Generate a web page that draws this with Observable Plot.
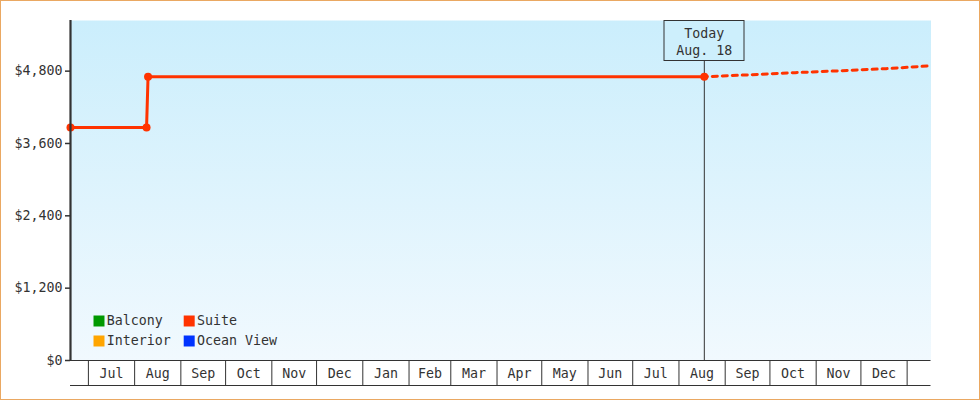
<!DOCTYPE html>
<html>
<head>
<meta charset="utf-8">
<script src="https://cdn.jsdelivr.net/npm/d3@7"></script>
<script src="https://cdn.jsdelivr.net/npm/@observablehq/plot@0.6"></script>
<style>
  html, body { margin: 0; padding: 0; background: #fff; }
  #chart svg { display: block; outline: 1px solid #eaa862; outline-offset: -1px; }
</style>
</head>
<body>
<div id="chart"></div>
<script>
// ---- data ----
const suiteDates = ["2022-06-19", "2022-08-09", "2022-08-10", "2023-08-18"];
const suitePrices = [3863, 3863, 4707, 4707];
const forecastDates = ["2023-08-18", "2023-09-18", "2023-10-18", "2023-11-18", "2023-12-18", "2024-01-17"];
const forecastPrices = [4707, 4740, 4775, 4807, 4841, 4889];
const todayDate = "2023-08-18";
const xDomain = ["2022-06-19", "2024-01-17"];
const yMax = 5640;
const yTicks = [0, 1200, 2400, 3600, 4800];
const legendNames = ["Balcony", "Interior", "Suite", "Ocean View"];
const legendColors = ["#009900", "#ffa500", "#ff3300", "#0033ff"];
const suiteColor = "#ff3300";

// ---- build tables ----
const suite = suiteDates.map((d, i) => ({date: new Date(d), price: suitePrices[i]}));
const forecast = forecastDates.map((d, i) => ({date: new Date(d), price: forecastPrices[i]}));
const today = new Date(todayDate);
const x0 = new Date(xDomain[0]), x1 = new Date(xDomain[1]);
const monthStarts = d3.utcMonth.range(d3.utcMonth.ceil(x0), x1);
const monthMids = monthStarts.slice(0, -1).map((m, i) => new Date((+m + +monthStarts[i + 1]) / 2));
const todayText = ["Today", d3.utcFormat("%b. %-d")(today)].join("\n");

// legend marks (2 columns x 2 rows, column-major)
const legendMarks = [];
legendNames.forEach((name, i) => {
  const col = Math.floor(i / 2), row = i % 2;
  const sx = 28.5 + col * 90.2, sy = -39.5 + row * 20;
  legendMarks.push(Plot.dot([name], {frameAnchor: "bottom-left", symbol: "square", r: 6.2, fill: legendColors[i], dx: sx, dy: sy}));
  legendMarks.push(Plot.text([name], {frameAnchor: "bottom-left", text: d => d, textAnchor: "start", fill: "#333", dx: sx + 7.8, dy: sy + 4}));
});

const ink = "#333";

const svg = Plot.plot({
  width: 980,
  height: 400,
  marginLeft: 70,
  marginRight: 49.5,
  marginTop: 20,
  marginBottom: 40,
  style: {fontFamily: "'DejaVu Sans Mono', monospace", fontSize: "13.3px", color: ink, background: "white"},
  x: {type: "utc", domain: [x0, x1], label: null},
  y: {domain: [0, yMax], label: null},
  marks: [
    Plot.frame({fill: "url(#bgGrad)", stroke: null}),
    Plot.ruleY([0], {stroke: ink, strokeWidth: 1}),
    Plot.ruleY([0], {stroke: ink, strokeWidth: 1, dy: 25}),
    Plot.axisX({ticks: monthStarts, tickSize: 25, tickFormat: () => "", stroke: ink}),
    Plot.axisX({ticks: monthMids, tickSize: 0, tickPadding: 8, tickFormat: d3.utcFormat("%b"), fill: ink}),
    Plot.ruleX([today], {stroke: ink, strokeWidth: 1}),
    Plot.line(forecast, {x: "date", y: "price", stroke: suiteColor, strokeWidth: 3, strokeDasharray: "5,5", strokeDashoffset: -8}),
    Plot.line(suite, {x: "date", y: "price", stroke: suiteColor, strokeWidth: 3}),
    Plot.dot(suite, {x: "date", y: "price", r: 4, fill: suiteColor}),
    Plot.axisY({ticks: yTicks, tickFormat: d3.format("$,"), tickSize: 5, tickPadding: 3, strokeWidth: 1.5, stroke: ink, fill: ink}),
    Plot.ruleX([x0], {stroke: ink, strokeWidth: 2.2}),
    ...legendMarks,
    Plot.text([today], {x: d => d, frameAnchor: "top", lineAnchor: "top", dy: 5, text: () => todayText, lineHeight: 1.3, fill: ink})
  ]
});

document.getElementById("chart").append(svg);

// gradient for the plot background
const defs = d3.select(svg).insert("defs", ":first-child");
const grad = defs.append("linearGradient").attr("id", "bgGrad").attr("x1", 0).attr("y1", 0).attr("x2", 0).attr("y2", 1);
grad.append("stop").attr("offset", "0%").attr("stop-color", "#cbeefc");
grad.append("stop").attr("offset", "100%").attr("stop-color", "#f1f9fe");

// box behind the "Today" label
d3.select(svg).selectAll("text").filter(function () { return this.textContent.startsWith("Today"); }).each(function () {
  const b = this.getBBox();
  const m = this.getCTM();
  const p = this.parentNode.getCTM();
  const ox = m.e - p.e;
  const cx = ox + b.x + b.width / 2;
  const w = 80;
  d3.select(this.parentNode).insert("rect", () => this)
    .attr("x", Math.round(cx - w / 2) - 0.5)
    .attr("y", 20.5 - p.f)
    .attr("width", w)
    .attr("height", 40)
    .attr("fill", "#cdeffc")
    .attr("stroke", ink)
    .attr("stroke-width", 1);
});
</script>
</body>
</html>
